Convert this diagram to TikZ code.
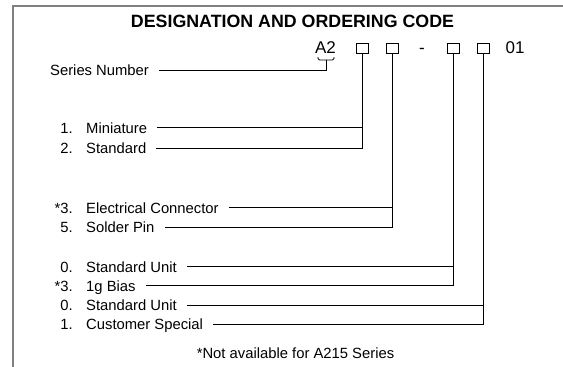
\documentclass[tikz,border=0pt]{standalone}
\usepackage{fontspec}
\setmainfont{Liberation Sans}
\tikzset{
  codebox/.style={draw, line width=0.9pt, minimum width=12pt, minimum height=10pt, inner sep=0pt},
  num/.style={anchor=east, inner sep=0pt, text height=10.6pt, text depth=0pt, font=\fontsize{14.8}{17}\selectfont},
  item/.style={anchor=west, inner sep=0pt, text height=10.6pt, text depth=0pt, font=\fontsize{14.8}{17}\selectfont},
  lead/.style={line width=0.9pt, shorten >=10pt},
  feed/.style={line width=0.9pt, shorten <=10pt}
}
\begin{document}
\begin{tikzpicture}[x=1pt,y=-1pt]
  \useasboundingbox (0,0) rectangle (563,367);
  \draw[gray, line width=2pt] (12.5,367) -- (12.5,6) -- (563,6);
  \node[font=\fontsize{17.8}{20}\selectfont\bfseries] (title) at (292.5,21) {DESIGNATION AND ORDERING CODE};
  % code row
  \node[anchor=base, inner sep=0pt, font=\fontsize{17}{20}\selectfont] (series) at (325.5,53) {A2};
  \node[codebox] (b1) at (362,48) {};
  \node[codebox] (b2) at (392,48) {};
  \node[anchor=base, inner sep=0pt, font=\fontsize{17}{20}\selectfont] (dash) at (422,53) {-};
  \node[codebox] (b3) at (453,48) {};
  \node[codebox] (b4) at (483.5,48) {};
  \node[anchor=base, inner sep=0pt, font=\fontsize{17}{20}\selectfont] (suffix) at (515,53) {01};
  \coordinate (brace) at (326,60);
  \draw[line width=0.9pt, rounded corners=1.5pt] (318,57) -- (318,60) -- (334,60) -- (334,57);
  % options
  \node[item] (sn) at (50,70) {Series Number};
  \node[num] (n1) at (73,127.7) {1.};
  \node[item] (mini) at (86,127.7) {Miniature};
  \node[num] (n2) at (73,148.3) {2.};
  \node[item] (std) at (86,148.3) {Standard};
  \node[num] (n3) at (73,207.7) {*3.};
  \node[item] (elec) at (86,207.7) {Electrical Connector};
  \node[num] (n5) at (73,227.3) {5.};
  \node[item] (pin) at (86,227.3) {Solder Pin};
  \node[num] (n0a) at (73,266.7) {0.};
  \node[item] (unita) at (86,266.7) {Standard Unit};
  \node[num] (n3b) at (73,285.7) {*3.};
  \node[item] (bias) at (86,285.7) {1g Bias};
  \node[num] (n0b) at (73,305) {0.};
  \node[item] (unitb) at (86,305) {Standard Unit};
  \node[num] (n1b) at (73,324) {1.};
  \node[item] (cust) at (86,324) {Customer Special};
  \node[font=\fontsize{14.8}{17}\selectfont] (note) at (295.5,353) {*Not available for A215 Series};
  % connectors
  \draw[lead] (brace) |- (sn.east);
  \draw[feed] (mini.east) -- (mini.east -| b1.south);
  \draw[lead] (b1.south) |- (std.east);
  \draw[feed] (elec.east) -- (elec.east -| b2.south);
  \draw[lead] (b2.south) |- (pin.east);
  \draw[feed] (unita.east) -- (unita.east -| b3.south);
  \draw[lead] (b3.south) |- (bias.east);
  \draw[feed] (unitb.east) -- (unitb.east -| b4.south);
  \draw[lead] (b4.south) |- (cust.east);
\end{tikzpicture}
\end{document}
